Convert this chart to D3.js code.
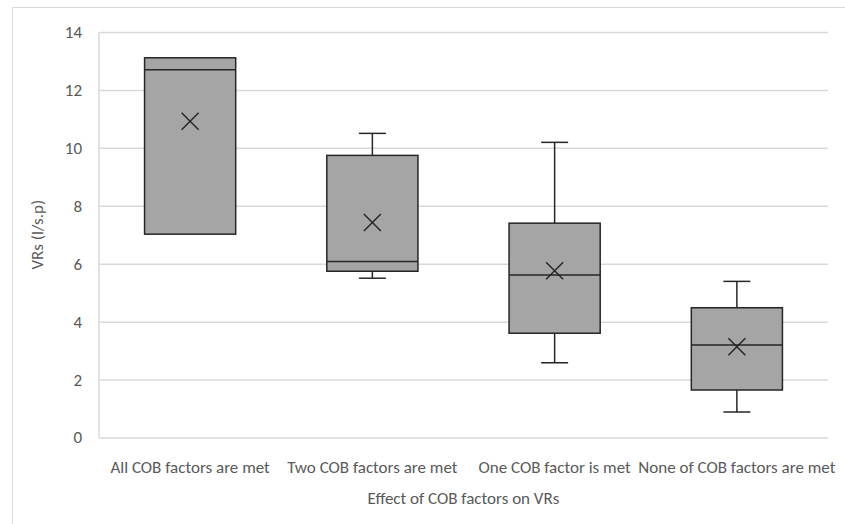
<!DOCTYPE html>
<html>
<head>
<meta charset="utf-8">
<script src="https://cdn.jsdelivr.net/npm/d3@7"></script>
<style>
  html, body { margin: 0; padding: 0; background: #fff; }
  svg text { font-family: Carlito, Calibri, "Liberation Sans", Arial, sans-serif; fill: #595959; }
</style>
</head>
<body>
<svg id="chart" width="845" height="524"></svg>
<script>
// Box plot of VRs by number of COB factors met

const categories = [
  "All COB factors are met",
  "Two COB factors are met",
  "One COB factor is met",
  "None of COB factors are met",
];
const minValues    = [7.02, 5.50, 2.58, 0.88];
const q1Values     = [7.02, 5.74, 3.60, 1.64];
const medianValues = [12.70, 6.08, 5.61, 3.19];
const q3Values     = [13.11, 9.74, 7.40, 4.48];
const maxValues    = [13.11, 10.50, 10.19, 5.39];
const meanValues   = [10.92, 7.42, 5.76, 3.13];
const yTicks = [0, 2, 4, 6, 8, 10, 12, 14];

const margin = { top: 32, right: 17, bottom: 86.5, left: 99 };
const width = 845;
const height = 524;
const fontSize = "17px";

const svg = d3.select("#chart");

// chart frame (only top and left edges fall inside the picture)
svg.append("path")
  .attr("d", `M12.5,${height} V7.5 H${width}`)
  .attr("fill", "none")
  .attr("stroke", "#d9d9d9")
  .attr("stroke-width", 1);

const x = d3.scaleBand()
  .domain(categories)
  .range([margin.left, width - margin.right])
  .paddingInner(0.5)
  .paddingOuter(0.25);

const y = d3.scaleLinear()
  .domain([0, 14])
  .range([height - margin.bottom, margin.top]);

// gridlines
svg.append("g")
  .attr("transform", `translate(${margin.left},0)`)
  .call(d3.axisLeft(y).tickValues(yTicks).tickSize(-(width - margin.left - margin.right)).tickFormat(""))
  .call(g => g.select(".domain").remove())
  .call(g => g.selectAll("line").attr("stroke", "#d9d9d9").attr("stroke-width", 1.5));

// vertical axis line
svg.append("line")
  .attr("x1", margin.left).attr("x2", margin.left)
  .attr("y1", y(14)).attr("y2", y(0))
  .attr("stroke", "#d9d9d9")
  .attr("stroke-width", 1.5);

// y tick labels
svg.append("g")
  .attr("transform", `translate(${margin.left},0)`)
  .call(d3.axisLeft(y).tickValues(yTicks).tickSize(0).tickPadding(17))
  .call(g => g.select(".domain").remove())
  .call(g => g.selectAll("text")
    .style("font-size", fontSize)
    .attr("fill", "#595959"));

// category labels
svg.append("g")
  .attr("transform", `translate(0,${y(0)})`)
  .call(d3.axisBottom(x).tickSize(0).tickPadding(23))
  .call(g => g.select(".domain").remove())
  .call(g => g.selectAll("text")
    .style("font-size", fontSize)
    .attr("fill", "#595959"));

// axis titles
svg.append("text")
  .attr("x", (margin.left + width - margin.right) / 2)
  .attr("y", 504)
  .attr("text-anchor", "middle")
  .style("font-size", fontSize)
  .text("Effect of COB factors on VRs");

svg.append("text")
  .attr("transform", `translate(43,${(y(0) + y(14)) / 2}) rotate(-90)`)
  .attr("text-anchor", "middle")
  .style("font-size", fontSize)
  .text("VRs (l/s.p)");

const boxes = categories.map((c, i) => ({
  cat: c,
  min: minValues[i], q1: q1Values[i], median: medianValues[i],
  q3: q3Values[i], max: maxValues[i], mean: meanValues[i],
}));

const stroke = "#262626";
const capHalf = 13.5;
const markSize = 8.5;

const g = svg.selectAll(".box")
  .data(boxes)
  .enter()
  .append("g")
  .attr("class", "box");

const cx = d => x(d.cat) + x.bandwidth() / 2;

// whiskers
g.append("line")
  .attr("x1", cx).attr("x2", cx)
  .attr("y1", d => y(d.q3)).attr("y2", d => y(d.max))
  .attr("stroke", stroke).attr("stroke-width", 1.5);
g.append("line")
  .attr("x1", cx).attr("x2", cx)
  .attr("y1", d => y(d.q1)).attr("y2", d => y(d.min))
  .attr("stroke", stroke).attr("stroke-width", 1.5);
g.filter(d => d.max > d.q3).append("line")
  .attr("x1", d => cx(d) - capHalf).attr("x2", d => cx(d) + capHalf)
  .attr("y1", d => y(d.max)).attr("y2", d => y(d.max))
  .attr("stroke", stroke).attr("stroke-width", 1.5);
g.filter(d => d.min < d.q1).append("line")
  .attr("x1", d => cx(d) - capHalf).attr("x2", d => cx(d) + capHalf)
  .attr("y1", d => y(d.min)).attr("y2", d => y(d.min))
  .attr("stroke", stroke).attr("stroke-width", 1.5);

// boxes
g.append("rect")
  .attr("x", d => x(d.cat))
  .attr("width", x.bandwidth())
  .attr("y", d => y(d.q3))
  .attr("height", d => y(d.q1) - y(d.q3))
  .attr("fill", "#a5a5a5")
  .attr("stroke", stroke)
  .attr("stroke-width", 1.5);

// medians
g.append("line")
  .attr("x1", d => x(d.cat)).attr("x2", d => x(d.cat) + x.bandwidth())
  .attr("y1", d => y(d.median)).attr("y2", d => y(d.median))
  .attr("stroke", stroke).attr("stroke-width", 1.5);

// mean markers
g.append("path")
  .attr("d", d => {
    const px = cx(d), py = y(d.mean), s = markSize;
    return `M${px - s},${py - s}L${px + s},${py + s}M${px - s},${py + s}L${px + s},${py - s}`;
  })
  .attr("stroke", stroke)
  .attr("stroke-width", 1.5)
  .attr("fill", "none");
</script>
</body>
</html>
